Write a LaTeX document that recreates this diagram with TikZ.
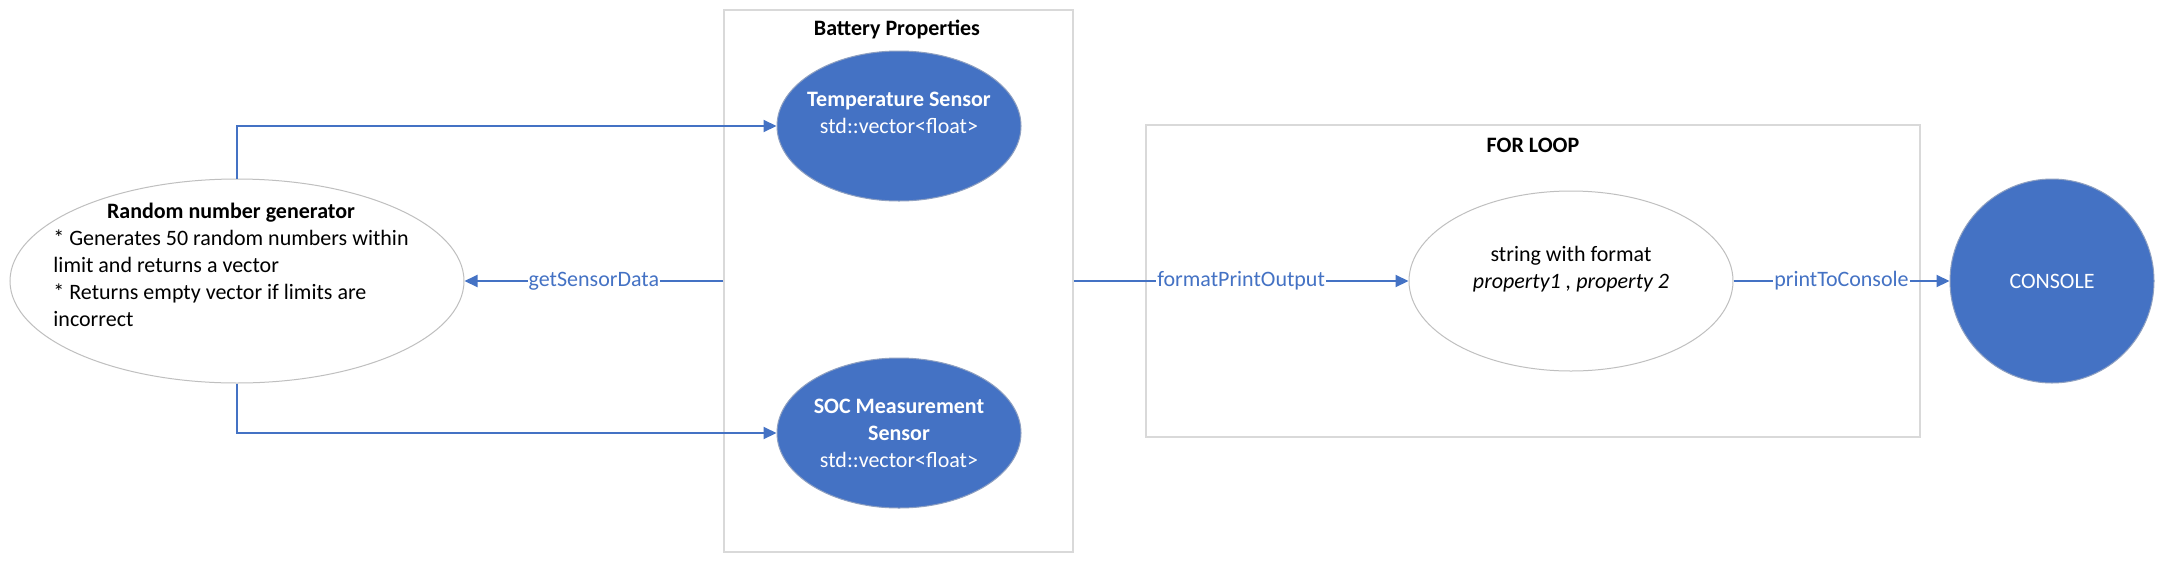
\documentclass[tikz,border=0pt]{standalone}
\usepackage{fontspec}
\setmainfont{Carlito}
\usetikzlibrary{arrows.meta,shapes.geometric}
\definecolor{oblue}{HTML}{4472C4}
\definecolor{boxgray}{HTML}{D9D9D9}
\definecolor{ellgray}{HTML}{BFBFBF}
\begin{document}
\begin{tikzpicture}[x=1pt,y=-1pt,
  every node/.style={font=\fontsize{22}{27}\selectfont},
  frame/.style={draw=boxgray, line width=1.5pt, rectangle, inner sep=0pt},
  whiteell/.style={ellipse, draw=ellgray, line width=1pt, fill=white, inner sep=0pt},
  blueell/.style={ellipse, draw=ellgray!60!oblue, line width=1pt, fill=oblue, inner sep=0pt},
  conn/.style={draw=oblue, line width=2pt, -{Triangle[length=13pt,width=12pt]}},
  lbl/.style={fill=white, text=oblue, inner sep=1pt},
  titletext/.style={font=\fontsize{22}{27}\selectfont\bfseries}
]
\useasboundingbox (0,0) rectangle (2163,563);
\fill[white] (0,0) rectangle (2163,563);

% frames
\node[frame, minimum width=349pt, minimum height=542pt] (bat) at (898.5,281) {};
\node[titletext] (battitle) at (897,29) {Battery Properties};
\node[frame, minimum width=774pt, minimum height=312pt] (loop) at (1533,281) {};
\node[titletext] (looptitle) at (1533,145) {FOR LOOP};

% ellipses
\node[whiteell, minimum width=454pt, minimum height=204pt,
  label={[xshift=-6pt]center:{\begin{tabular}{@{}l@{}}\multicolumn{1}{@{}c@{}}{\bfseries Random number generator}\\
  {}* Generates 50 random numbers within\\
  limit and returns a vector\\
  {}* Returns empty vector if limits are\\
  incorrect\\
  \mbox{}\end{tabular}}}] (rng) at (237,281) {};

\node[blueell, minimum width=244pt, minimum height=150pt,
  label={[align=center, text=white]center:{\textbf{Temperature Sensor}\\ std::vector<float>\\ \mbox{}}}] (temp) at (899,126) {};

\node[blueell, minimum width=244pt, minimum height=150pt,
  label={[align=center, text=white]center:{\textbf{SOC Measurement}\\ \textbf{Sensor}\\ std::vector<float>}}] (soc) at (899,433) {};

\node[whiteell, minimum width=324pt, minimum height=180pt,
  label={[align=center]center:{string with format\\ \textit{property1 , property 2}\\ \mbox{}}}] (fmt) at (1571,281) {};

\node[blueell, minimum width=204pt, minimum height=204pt,
  label={[text=white]center:CONSOLE}] (con) at (2052,281) {};

% connectors
\draw[conn] (rng.north) |- (temp.west);
\draw[conn] (rng.south) |- (soc.west);
\draw[conn] (bat.west |- rng.east) -- node[lbl]{getSensorData} (rng.east);
\draw[conn] (bat.east |- fmt.west) -- node[lbl]{formatPrintOutput} (fmt.west);
\draw[conn] (fmt.east) -- node[lbl]{printToConsole} (con.west);
\end{tikzpicture}
\end{document}
